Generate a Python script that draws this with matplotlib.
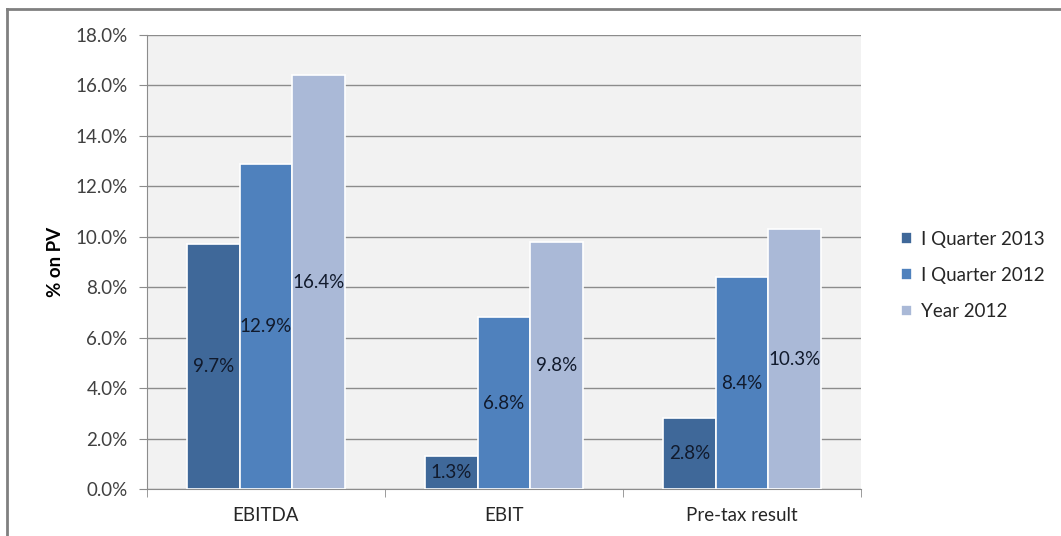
import numpy as np
import matplotlib.pyplot as plt
from matplotlib.lines import Line2D
from matplotlib.ticker import FuncFormatter, FixedLocator

plt.rcParams['font.family'] = ['Lato', 'DejaVu Sans']

categories = ['EBITDA', 'EBIT', 'Pre-tax result']
series = ['I Quarter 2013', 'I Quarter 2012', 'Year 2012']
q1_2013 = [9.7, 1.3, 2.8]
q1_2012 = [12.9, 6.8, 8.4]
year_2012 = [16.4, 9.8, 10.3]
values = [q1_2013, q1_2012, year_2012]
colors = ['#3f6899', '#4f81bd', '#aab9d7']

fs = 13.5

fig = plt.figure(figsize=(10.61, 5.36), dpi=100)
ax = fig.add_axes([147 / 1061, 47 / 536, 714 / 1061, 454 / 536])
ax.set_facecolor('#f2f2f2')

x = np.arange(len(categories))
width = 0.221
for i, (vals, col, name) in enumerate(zip(values, colors, series)):
    pos = x + (i - 1) * width
    bars = ax.bar(pos, vals, width, color=col, edgecolor='white', linewidth=1.2,
                  label=name, zorder=3)
    for b, v in zip(bars, vals):
        ax.text(b.get_x() + b.get_width() / 2, v / 2, f'{v:.1f}%',
                ha='center', va='center', fontsize=fs, color='#111a2c', zorder=4)

ax.set_xlim(-0.5, 2.5)
ax.set_ylim(0, 18)
ax.set_yticks(np.arange(0, 18.1, 2))
ax.yaxis.set_major_formatter(FuncFormatter(lambda v, p: f'{v:.1f}%'))
ax.grid(axis='y', color='#8c8c8c', linewidth=1, zorder=0)
ax.set_axisbelow(True)

ax.set_xticks(x)
ax.set_xticklabels(categories)
ax.xaxis.set_minor_locator(FixedLocator([-0.5, 0.5, 1.5, 2.5]))
ax.tick_params(axis='x', which='major', length=0, pad=13, labelsize=fs, labelcolor='#262626')
ax.tick_params(axis='x', which='minor', length=6, color='#8c8c8c', direction='out')
ax.tick_params(axis='y', length=6, color='#8c8c8c', direction='out', pad=8,
               labelsize=fs, labelcolor='#404040')

for s in ['top', 'right']:
    ax.spines[s].set_visible(False)
for s in ['left', 'bottom']:
    ax.spines[s].set_color('#8c8c8c')

ax.set_ylabel('% on PV', fontsize=fs, fontweight='bold', labelpad=8)

fig.legend(loc='upper left', bbox_to_anchor=(884 / 1061, 1 - 214 / 536), frameon=False,
           fontsize=fs, handlelength=0.6, handleheight=0.6, handletextpad=0.45,
           labelspacing=1.02, labelcolor='#262626')

# outer frame
fig.add_artist(Line2D([6.5 / 1061, 6.5 / 1061], [0, 1 - 9 / 536], color='#808080',
                      linewidth=2, transform=fig.transFigure))
fig.add_artist(Line2D([6.5 / 1061, 1], [1 - 9 / 536, 1 - 9 / 536], color='#808080',
                      linewidth=2, transform=fig.transFigure))

fig.savefig('out.png', dpi=100)
